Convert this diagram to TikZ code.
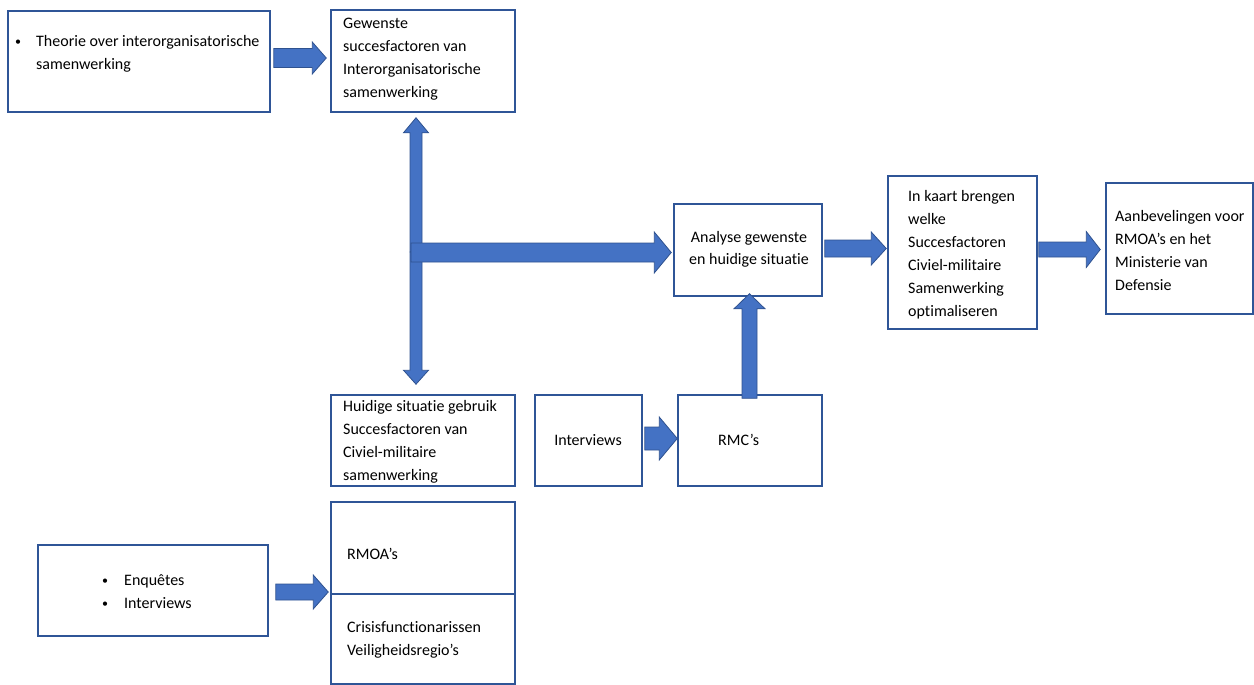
\documentclass[tikz,border=0pt]{standalone}
\usepackage{fontspec}
\setmainfont{Carlito}[Ligatures=CommonOff]
\usetikzlibrary{calc}
\definecolor{arrfill}{HTML}{4472C4}
\definecolor{arrline}{HTML}{2F528F}
\definecolor{boxline}{HTML}{2F5597}
\tikzset{
  box/.style={draw=boxline, line width=1.5pt, inner sep=0pt, fill=white},
  txt/.style={inner sep=0pt, align=left, anchor=west, font=\fontsize{16}{23}\selectfont},
  ctxt/.style={inner sep=0pt, align=center, font=\fontsize{16}{22}\selectfont},
  ba/.code n args={3}{\def\baw{#1pt}\def\baH{#2pt}\def\bah{#3pt}},
  blockarrow/.style={draw=arrline, fill=arrfill, line width=0.8pt, line join=miter,
    to path={
      ($(\tikztostart)!\baw!90:(\tikztotarget)$) --
      ($(\tikztotarget)!\bah!(\tikztostart)!\baw!-90:(\tikztostart)$) --
      ($(\tikztotarget)!\bah!(\tikztostart)!\baH!-90:(\tikztostart)$) --
      (\tikztotarget) --
      ($(\tikztotarget)!\bah!(\tikztostart)!\baH!90:(\tikztostart)$) --
      ($(\tikztotarget)!\bah!(\tikztostart)!\baw!90:(\tikztostart)$) --
      ($(\tikztostart)!\baw!-90:(\tikztotarget)$) -- cycle
    }}
}
\newcommand\smbul{\raisebox{1pt}{\fontsize{12}{12}\selectfont\textbullet}}
\newcommand\bul{\makebox[21pt][l]{\smbul}}
\begin{document}
\begin{tikzpicture}[x=1pt,y=-1pt]
\useasboundingbox (0,0) rectangle (1254,685);

% boxes
\node[box, minimum width=262pt, minimum height=101pt] (A) at (139,61.5) {};
\node[box, minimum width=184pt, minimum height=102pt] (B) at (423,61) {};
\node[box, minimum width=148pt, minimum height=92pt] (AN) at (748,250) {};
\node[box, minimum width=184pt, minimum height=91pt] (HU) at (423,440.5) {};
\node[box, minimum width=107pt, minimum height=91pt] (IV) at (588.5,440.5) {};
\node[box, minimum width=144pt, minimum height=91pt] (RMC) at (750,440.5) {};
\node[box, minimum width=149pt, minimum height=153pt] (IK) at (962.5,252.5) {};
\node[box, minimum width=147pt, minimum height=131pt] (AB) at (1179.5,248.5) {};
\node[box, minimum width=230pt, minimum height=91pt] (EQ) at (153,590.5) {};
\node[box, minimum width=184pt, minimum height=92pt] (RM) at (423,548) {};
\node[box, minimum width=184pt, minimum height=90pt] (CR) at (423,639) {};

% texts
\node[txt] (tA) at (15,54) {\bul Theorie over interorganisatorische\\\hspace*{21pt}samenwerking};
\node[txt] (tB) at (343,59.5) {Gewenste\\succesfactoren van\\Interorganisatorische\\samenwerking};
\node[ctxt] (tAN) at (749,249) {Analyse gewenste\\ en huidige situatie};
\node[txt] (tHU) at (343,442) {Huidige situatie gebruik\\Succesfactoren van\\Civiel-militaire\\samenwerking};
\node[ctxt] (tIV) at (588,440) {Interviews};
\node[txt] (tRMC) at (718,440) {RMC’s};
\node[txt] (tIK) at (908,254.5) {In kaart brengen\\welke\\Succesfactoren\\Civiel-militaire\\Samenwerking\\optimaliseren};
\node[txt] (tAB) at (1115,251) {Aanbevelingen voor\\RMOA’s en het\\Ministerie van\\Defensie};
\node[txt] (tEQ) at (102,591.5) {\makebox[22pt][l]{\smbul}Enquêtes\\\makebox[22pt][l]{\smbul}Interviews};
\node[txt] (tRM) at (347,554) {RMOA’s};
\node[txt] (tCR) at (347,639.5) {Crisisfunctionarissen\\Veiligheidsregio’s};

% connector end points
\coordinate (a1s) at ($(A.east |- 0,58)+(3,0)$);
\coordinate (a1t) at ($(B.west |- 0,58)+(-4,0)$);
\coordinate (vm) at (416,252);
\coordinate (vt) at ($(B.south -| vm)+(0,5)$);
\coordinate (vb) at ($(HU.north -| vm)+(0,-10)$);
\coordinate (hs) at (411,252.5);
\coordinate (ht) at ($(AN.west |- hs)+(-2,0)$);
\coordinate (is) at ($(IV.east |- 0,438.5)+(2,0)$);
\coordinate (it) at (RMC.west |- is);
\coordinate (rs) at ($(RMC.north -| 749.5,0)+(0,4)$);
\coordinate (rt) at ($(AN.south -| 749.5,0)+(0,-3)$);
\coordinate (ks) at ($(AN.east |- 0,248.5)+(2,0)$);
\coordinate (kt) at ($(IK.west |- ks)+(-1,0)$);
\coordinate (bs) at ($(IK.east |- 0,249.5)+(1,0)$);
\coordinate (bt) at ($(AB.west |- bs)+(-5,0)$);
\coordinate (es) at ($(EQ.east |- 0,592)+(7,0)$);
\coordinate (et) at ($(RM.west |- es)+(-2,0)$);

% block arrows
\draw[blockarrow, ba={9.5}{16}{14}] (a1s) to (a1t);
\draw[blockarrow, ba={6}{12.5}{15}] (vm) to (vt);
\draw[blockarrow, ba={6}{12.5}{14}] (vm) to (vb);
\draw[blockarrow, ba={9.5}{20.5}{17}] (hs) to (ht);
\draw[blockarrow, ba={11.5}{21.5}{18}] (is) to (it);
\draw[blockarrow, ba={7.5}{15.5}{15}] (rs) to (rt);
\draw[blockarrow, ba={8.5}{16.5}{15}] (ks) to (kt);
\draw[blockarrow, ba={7.5}{18}{14}] (bs) to (bt);
\draw[blockarrow, ba={8}{17}{15}] (es) to (et);
\end{tikzpicture}
\end{document}
